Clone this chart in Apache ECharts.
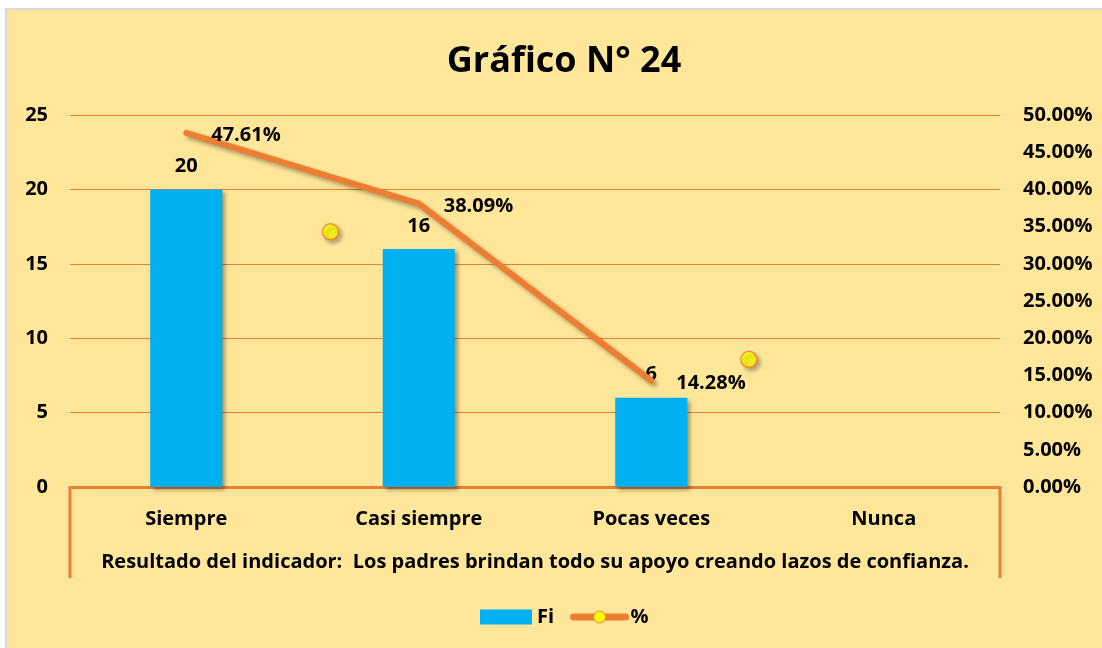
<!DOCTYPE html>
<html>
<head>
<meta charset="utf-8">
<script src="https://cdn.jsdelivr.net/npm/echarts@6/dist/echarts.min.js"></script>
<style>
  html, body { margin: 0; padding: 0; background: #fff; }
  #chart {
    position: absolute; left: 5px; top: 8px;
    width: 1097px; height: 640px; box-sizing: border-box;
    border-left: 2px solid #d9d9d9; border-top: 2px solid #d9d9d9;
    background: #FFE699;
  }
</style>
</head>
<body>
<div id="chart"></div>
<script>
// datos
const categories = ['Siempre', 'Casi siempre', 'Pocas veces', 'Nunca']
const fi = [20, 16, 6, 0]
const pct = [47.61, 38.09, 14.28]
const fiTicks = { min: 0, max: 25, interval: 5 }
const pctTicks = { min: 0, max: 50, interval: 5 }
// puntos amarillos sueltos (posición en unidades de categoría, valor en %)
const strayX = [1.12, 2.92]
const strayY = [34.31, 17.16]

const orange = '#ED7D31'
const font = 'Open Sans'
const lbl = { color: '#000', fontFamily: font, fontWeight: 'bold', fontSize: 20 }
const shadow = { shadowColor: 'rgba(0,0,0,0.35)', shadowBlur: 4, shadowOffsetX: 3, shadowOffsetY: 3 }

const G = { left: 63, right: 102, top: 105, bottom: 161 }

const options = {
    animation: false,
    title: {
        text: 'Gráfico N° 24',
        left: 552, top: 29, textAlign: 'center',
        textStyle: { color: '#000', fontFamily: font, fontWeight: 'bold', fontSize: 36 }
    },
    legend: {
        left: 468, top: 592,
        itemWidth: 52, itemHeight: 15, itemGap: 16,
        textStyle: lbl,
        data: [
            { name: 'Fi', icon: 'rect' },
            {
                name: '%',
                itemStyle: { color: '#FFFF00', borderColor: orange, borderWidth: 1 },
                lineStyle: { color: orange, width: 7, shadowBlur: 0, shadowOffsetX: 0, shadowOffsetY: 0 }
            }
        ]
    },
    grid: G,
    xAxis: [
        {
            type: 'category',
            data: categories,
            axisLine: { lineStyle: { color: orange, width: 3 } },
            axisTick: { show: false },
            axisLabel: { ...lbl, margin: 22 },
            name: 'Resultado del indicador:  Los padres brindan todo su apoyo creando lazos de confianza.',
            nameLocation: 'middle',
            nameGap: 65,
            nameTextStyle: lbl
        },
        { type: 'value', min: 0, max: 4, show: false }
    ],
    yAxis: [
        {
            type: 'value', ...fiTicks,
            axisLine: { show: false },
            axisTick: { show: false },
            axisLabel: { ...lbl, margin: 22 },
            splitLine: { lineStyle: { color: orange, width: 1 } }
        },
        {
            type: 'value', ...pctTicks,
            position: 'right',
            axisLine: { show: false },
            axisTick: { show: false },
            splitLine: { show: false },
            axisLabel: { ...lbl, margin: 23, formatter: v => v.toFixed(2) + '%' }
        }
    ],
    series: [
        {
            name: 'Fi',
            type: 'bar',
            data: fi,
            barWidth: '31%',
            itemStyle: { color: '#00B0F0', ...shadow },
            label: { show: true, position: 'top', distance: 13, ...lbl, formatter: p => p.value ? p.value : '' }
        },
        {
            name: '%',
            type: 'line',
            yAxisIndex: 1,
            data: pct,
            symbol: 'circle',
            symbolSize: 2,
            itemStyle: { color: orange },
            lineStyle: { color: orange, width: 6, cap: 'round', ...shadow },
            label: { show: true, position: 'right', distance: 24, offset: [0, 3], ...lbl, formatter: p => p.value.toFixed(2) + '%' },
            z: 3
        },
        {
            type: 'scatter',
            xAxisIndex: 1,
            yAxisIndex: 1,
            data: strayX.map((x, i) => [x, strayY[i]]),
            symbolSize: 16,
            itemStyle: { color: '#FFFF00', borderColor: orange, borderWidth: 1.5, ...shadow },
            z: 4
        }
    ],
    graphic: [
        {
            type: 'polyline', silent: true,
            shape: { points: [[G.left, 477], [G.left, 568]] },
            style: { stroke: orange, lineWidth: 3, fill: null }
        },
        {
            type: 'polyline', silent: true,
            shape: { points: [[1095 - G.right, 477], [1095 - G.right, 568]] },
            style: { stroke: orange, lineWidth: 3, fill: null }
        }
    ]
}

const chart = echarts.init(document.getElementById('chart'))
chart.setOption(options)
window.addEventListener('resize', function () {
    chart && chart.resize()
})
</script>
</body>
</html>
